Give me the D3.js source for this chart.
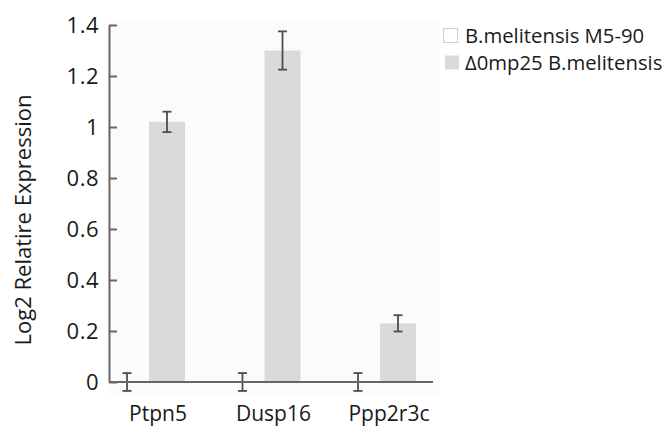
<!DOCTYPE html>
<html>
<head>
<meta charset="utf-8">
<script src="https://cdn.jsdelivr.net/npm/d3@7"></script>
<style>
  body { margin: 0; background: #fff; }
  text { font-family: "Open Sans", sans-serif; fill: #1a1a1a; }
</style>
</head>
<body>
<svg id="chart" width="669" height="427"></svg>
<script>
var genes = ["Ptpn5", "Dusp16", "Ppp2r3c"];
var seriesNames = ["B.melitensis M5-90", "\u03940mp25 B.melitensis"];
var wildValues = [0, 0, 0];
var wildErrors = [0.035, 0.035, 0.035];
var mutantValues = [1.02, 1.30, 0.23];
var mutantErrors = [0.04, 0.075, 0.032];
var yTicks = [0, 0.2, 0.4, 0.6, 0.8, 1, 1.2, 1.4];
var seriesColors = ["#ffffff", "#dadada"];

(function () {
    var svg = d3.select("#chart");
    var plotLeft = 109, plotRight = 455.5, plotTop = 25, plotBottom = 382;

    var y = d3.scaleLinear().domain([0, 1.4]).range([plotBottom, plotTop]);
    var x = d3.scaleBand().domain(genes).range([plotLeft, plotRight])
        .paddingInner(0.342).paddingOuter(0.171).align(0);
    var xs = d3.scaleBand().domain([0, 1]).range([0, x.bandwidth()]).paddingInner(0.1);

    // faint plot background
    svg.append("rect")
        .attr("x", 107).attr("y", 22)
        .attr("width", 333).attr("height", 372)
        .attr("fill", "#fbfbfb");

    var rows = genes.map(function (g, i) {
        return [
            {gene: g, s: 0, v: wildValues[i], e: wildErrors[i]},
            {gene: g, s: 1, v: mutantValues[i], e: mutantErrors[i]}
        ];
    });

    var groups = svg.append("g").selectAll("g")
        .data(rows)
        .enter()
        .append("g")
        .attr("transform", function (d) { return "translate(" + x(d[0].gene) + ",0)"; });

    groups.selectAll("rect")
        .data(function (d) { return d; })
        .enter()
        .append("rect")
        .attr("x", function (d) { return xs(d.s); })
        .attr("y", function (d) { return y(d.v); })
        .attr("width", xs.bandwidth())
        .attr("height", function (d) { return y(0) - y(d.v); })
        .attr("fill", function (d) { return seriesColors[d.s]; });

    // x axis line
    svg.append("line")
        .attr("x1", plotLeft).attr("x2", 433)
        .attr("y1", y(0)).attr("y2", y(0))
        .attr("stroke", "#666").attr("stroke-width", 2);

    // error bars
    var err = groups.selectAll("g.err")
        .data(function (d) { return d; })
        .enter()
        .append("g")
        .attr("class", "err")
        .attr("stroke", "#4d4d4d")
        .attr("stroke-width", 1.8);
    err.append("line")
        .attr("x1", function (d) { return xs(d.s) + xs.bandwidth() / 2; })
        .attr("x2", function (d) { return xs(d.s) + xs.bandwidth() / 2; })
        .attr("y1", function (d) { return y(d.v + d.e); })
        .attr("y2", function (d) { return y(d.v - d.e); });
    [1, -1].forEach(function (sign) {
        err.append("line")
            .attr("x1", function (d) { return xs(d.s) + xs.bandwidth() / 2 - 4.5; })
            .attr("x2", function (d) { return xs(d.s) + xs.bandwidth() / 2 + 4.5; })
            .attr("y1", function (d) { return y(d.v + sign * d.e); })
            .attr("y2", function (d) { return y(d.v + sign * d.e); });
    });

    // y axis
    var yAxis = svg.append("g")
        .attr("transform", "translate(" + plotLeft + ",0)")
        .call(d3.axisLeft(y).tickValues(yTicks).tickFormat(function (d) { return String(d); })
            .tickSizeInner(-8).tickSizeOuter(0).tickPadding(10));
    yAxis.select(".domain").attr("stroke", "#666").attr("stroke-width", 2);
    yAxis.selectAll(".tick line").attr("stroke", "#666").attr("stroke-width", 2);
    yAxis.selectAll(".tick text")
        .attr("font-size", 22).attr("fill", "#1a1a1a")
        .attr("letter-spacing", 0.5)
        .attr("font-family", "Open Sans, sans-serif");

    // category labels
    svg.append("g").selectAll("text")
        .data(genes)
        .enter()
        .append("text")
        .attr("x", function (d) { return x(d) + x.bandwidth() / 2 + 11; })
        .attr("y", 421)
        .attr("text-anchor", "middle")
        .attr("font-size", 21)
        .text(function (d) { return d; });

    // y title
    svg.append("text")
        .attr("transform", "translate(31,220) rotate(-90)")
        .attr("text-anchor", "middle")
        .attr("font-size", 22)
        .text("Log2 Relatire Expression");

    // legend
    var legend = svg.append("g").selectAll("g")
        .data(seriesNames)
        .enter()
        .append("g")
        .attr("transform", function (d, i) { return "translate(443," + (28 + i * 27) + ")"; });
    legend.append("rect")
        .attr("x", function (d, i) { return i === 0 ? 0.5 : 2; })
        .attr("y", 0.5)
        .attr("width", 14)
        .attr("height", 14)
        .attr("fill", function (d, i) { return seriesColors[i]; })
        .attr("stroke", function (d, i) { return i === 0 ? "#cfcfcf" : "none"; });
    legend.append("text")
        .attr("x", 22).attr("y", 15)
        .attr("font-size", 20.3)
        .text(function (d) { return d; });
})();
</script>
</body>
</html>
